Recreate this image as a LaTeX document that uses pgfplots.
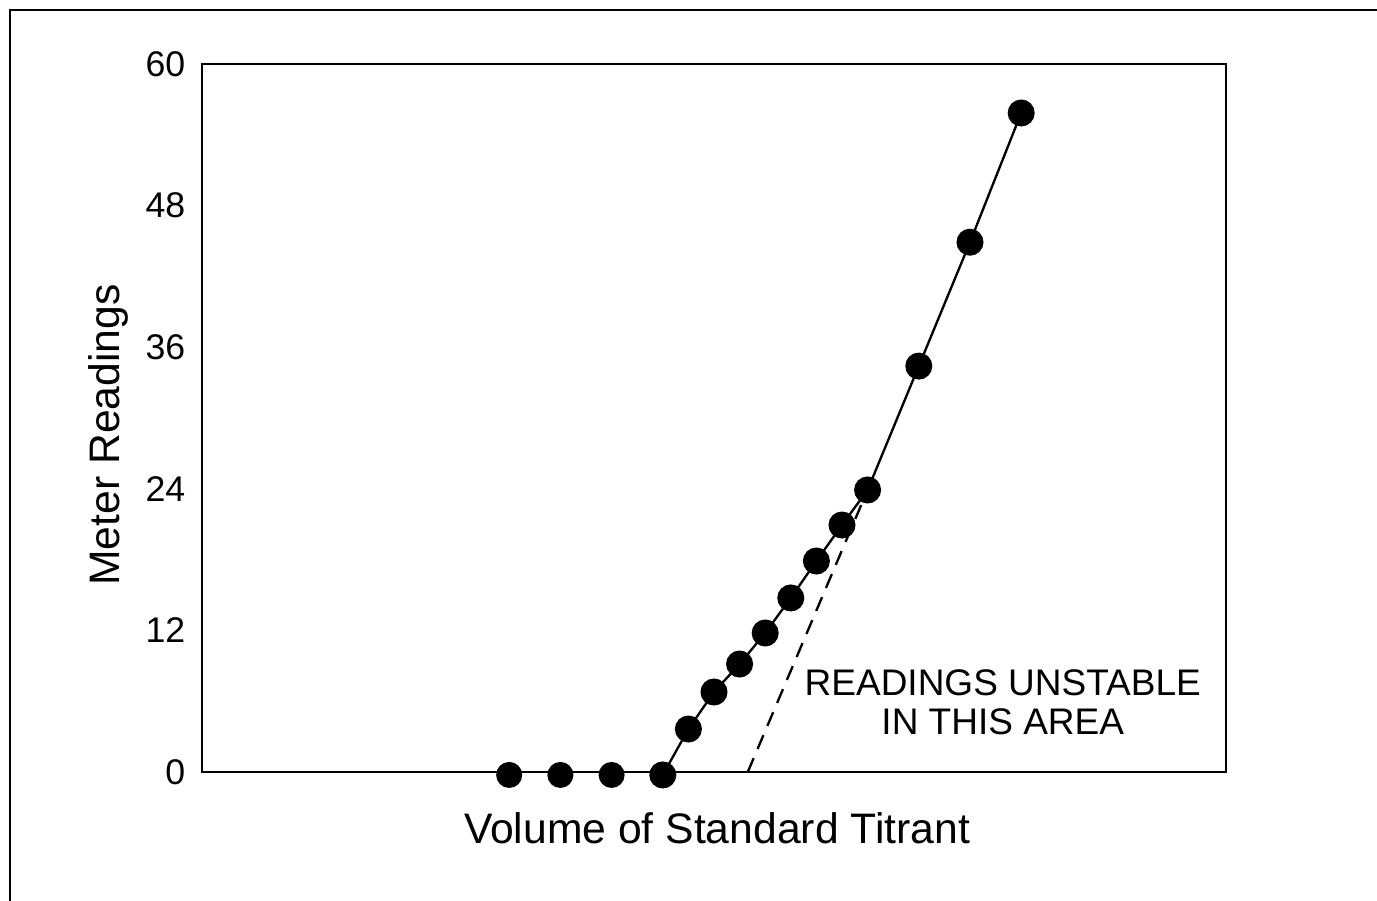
\documentclass[border=0pt]{standalone}
\usepackage{fontspec}
\setmainfont{Liberation Sans}
\usepackage{pgfplots}
\pgfplotsset{compat=1.18}
\begin{document}
\begin{tikzpicture}
\begin{axis}[
  at={(0,0)}, anchor=south west,
  scale only axis, width=307.2pt, height=212.4pt,
  xmin=0, xmax=20, ymin=0, ymax=60,
  xtick=\empty,
  ytick={0,12,24,36,48,60},
  major tick length=0pt,
  axis line style={line width=0.85pt},
  /pgf/number format/assume math mode=true,
  yticklabel style={font=\fontsize{10.7}{12}\selectfont, xshift=-1.5pt},
  xlabel={Volume of Standard Titrant},
  ylabel={Meter Readings},
  xlabel style={font=\fontsize{12.8}{15}\selectfont, at={(axis description cs:0.503,-0.079)}, anchor=center},
  ylabel style={font=\fontsize{12.8}{15}\selectfont, at={(axis description cs:-0.0918,0.476)}, anchor=center},
  clip=false,
]
\addplot[black, line width=0.7pt, dash pattern=on 4.5pt off 3pt] coordinates {(10.66,0) (13.0,23.9)};
\addplot[only marks, mark=*, mark size=3.7pt, black] coordinates {(6,-0.25) (7,-0.25) (8,-0.25)};
\addplot[black, line width=0.7pt, mark=*, mark size=3.7pt, mark options={solid, fill=black}] coordinates {
(9,-0.25) (9.5,3.64) (10,6.78) (10.5,9.15) (11,11.78) (11.5,14.75) (12,17.88) (12.5,20.93) (13,23.9) (14,34.4) (15,44.9) (16,55.85)};
\node[align=center, font=\fontsize{11.1}{11.7}\selectfont] at (axis cs:15.64,5.9) {READINGS UNSTABLE\\IN THIS AREA};
\end{axis}
\useasboundingbox (-60.6pt,-38.7pt) rectangle (352.5pt,231.6pt);
\draw[line width=0.7pt] (-57.6pt,-45pt) -- (-57.6pt,228.6pt) -- (360pt,228.6pt);
\end{tikzpicture}
\end{document}
